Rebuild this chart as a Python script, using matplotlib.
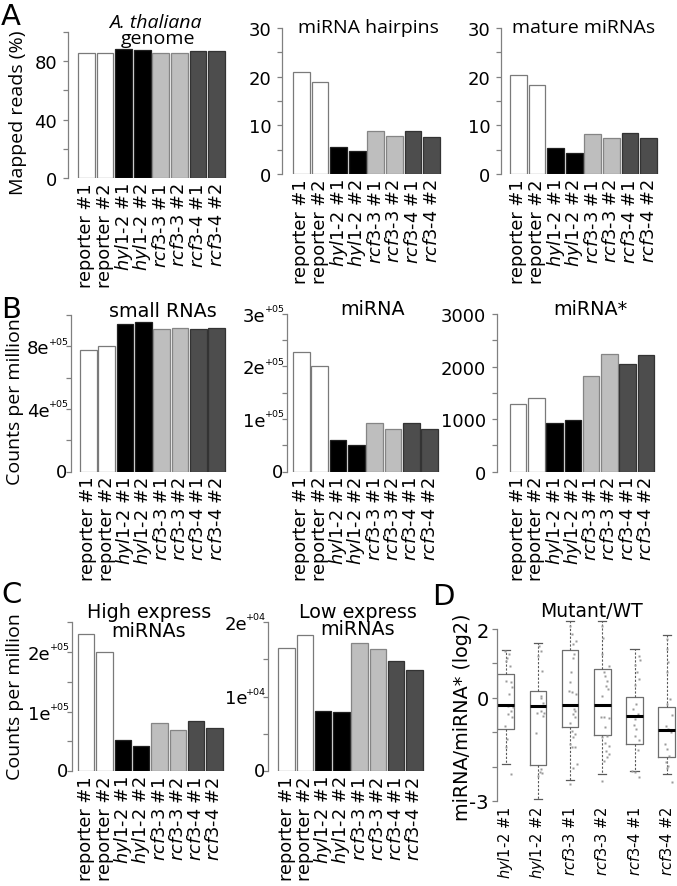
import numpy as np
import matplotlib.pyplot as plt

plt.rcParams['font.family'] = 'DejaVu Sans'
plt.rcParams['mathtext.fontset'] = 'dejavusans'

W, H = 677, 887

# samples shared by the bar panels
sample_labels = ['reporter #1', 'reporter #2',
                 r'$\mathit{hyl1}$-$\mathit{2}$ #1', r'$\mathit{hyl1}$-$\mathit{2}$ #2',
                 r'$\mathit{rcf3}$-$\mathit{3}$ #1', r'$\mathit{rcf3}$-$\mathit{3}$ #2',
                 r'$\mathit{rcf3}$-$\mathit{4}$ #1', r'$\mathit{rcf3}$-$\mathit{4}$ #2']
bar_colors = ['white', 'white', 'black', 'black', '#bebebe', '#bebebe', '#4d4d4d', '#4d4d4d']
edge_colors = ['#7a7a7a', '#7a7a7a', '#202020', '#202020', '#858585', '#858585', '#333333', '#333333']

# panel A (% mapped reads)
genome_pct = [85.5, 85.5, 88.3, 88.0, 85.5, 85.5, 87.2, 87.2]
hairpin_pct = [21.0, 19.0, 5.6, 4.7, 8.8, 7.8, 8.8, 7.7]
mature_pct = [20.4, 18.3, 5.3, 4.4, 8.3, 7.4, 8.4, 7.4]
# panel B (counts per million)
small_rna_cpm = [7.77e5, 7.99e5, 9.4e5, 9.55e5, 9.1e5, 9.2e5, 9.1e5, 9.2e5]
mirna_cpm = [2.27e5, 2.01e5, 0.61e5, 0.51e5, 0.92e5, 0.81e5, 0.93e5, 0.81e5]
mirna_star_cpm = [1283, 1398, 933, 985, 1823, 2242, 2057, 2223]
# panel C (counts per million)
high_expr_cpm = [2.30e5, 2.00e5, 0.53e5, 0.42e5, 0.81e5, 0.69e5, 0.85e5, 0.72e5]
low_expr_cpm = [1.65e4, 1.82e4, 0.81e4, 0.79e4, 1.71e4, 1.64e4, 1.47e4, 1.35e4]

# y ticks, labels and small raised exponents (blank = unlabeled tick)
pct100_ticks = [0, 20, 40, 60, 80, 100]
pct100_labels = ['0', '', '40', '', '80', '']
pct30_ticks = [0, 5, 10, 15, 20, 25, 30]
pct30_labels = ['0', '', '10', '', '20', '', '30']
small_ticks = [0, 2e5, 4e5, 6e5, 8e5, 1e6]
small_labels = ['0', '', '4e', '', '8e', '']
small_exps = ['', '', '+05', '', '+05', '']
mirna_ticks = [0, 0.5e5, 1e5, 1.5e5, 2e5, 2.5e5, 3e5]
mirna_labels = ['0', '', '1e', '', '2e', '', '3e']
mirna_exps = ['', '', '+05', '', '+05', '', '+05']
star_ticks = [0, 500, 1000, 1500, 2000, 2500, 3000]
star_labels = ['0', '', '1000', '', '2000', '', '3000']
high_ticks = [0, 0.5e5, 1e5, 1.5e5, 2e5, 2.5e5]
high_labels = ['0', '', '1e', '', '2e', '']
high_exps = ['', '', '+05', '', '+05', '']
low_ticks = [0, 0.5e4, 1e4, 1.5e4, 2e4]
low_labels = ['0', '', '1e', '', '2e']
low_exps = ['', '', '+04', '', '+04']

# panel D box statistics, miRNA/miRNA* (log2)
mutant_labels = [r'$\mathit{hyl1}$-$\mathit{2}$ #1', r'$\mathit{hyl1}$-$\mathit{2}$ #2',
                 r'$\mathit{rcf3}$-$\mathit{3}$ #1', r'$\mathit{rcf3}$-$\mathit{3}$ #2',
                 r'$\mathit{rcf3}$-$\mathit{4}$ #1', r'$\mathit{rcf3}$-$\mathit{4}$ #2']
box_q1 = [-0.90, -1.94, -0.86, -1.08, -1.35, -1.71]
box_med = [-0.20, -0.24, -0.20, -0.22, -0.54, -0.93]
box_q3 = [0.70, 0.19, 1.40, 0.83, 0.02, -0.28]
whisk_lo = [-1.93, -2.95, -2.39, -2.22, -2.12, -2.22]
whisk_hi = [1.40, 1.58, 2.24, 2.24, 1.43, 1.84]

# individual miRNAs (value, jitter in box widths)
pts_hyl1_1 = [1.37, 1.27, 1.17, 1.08, 0.93, 0.49, 0.45, 0.30, 0.11, -0.23, -0.28, -0.38, -0.47, -0.55, -0.81, -1.20, -1.44, -2.22]
jit_hyl1_1 = [-0.06, 0.18, 0.10, 0.04, 0.24, 0.04, 0.30, 0.38, 0.18, 0.14, 0.44, 0.30, 0.14, 0.38, -0.06, 0.10, 0.04, 0.34]
pts_hyl1_2 = [1.51, 1.37, 1.22, 0.78, 0.06, -0.01, -0.14, -0.43, -0.38, -0.43, -0.52, -1.01, -2.07, -2.17, -2.27, -2.20]
jit_hyl1_2 = [0.04, 0.16, 0.0, 0.24, 0.16, 0.20, 0.30, -0.04, 0.20, 0.36, 0.30, -0.10, 0.20, 0.10, 0.0, 0.24]
pts_rcf33_1 = [2.09, 1.85, 1.66, 1.56, 1.27, 1.17, 0.74, 0.45, 0.20, 0.16, 0.11, -0.33, -0.38, -0.47, -0.57, -0.72, -0.96, -1.06, -1.13, -1.35, -1.44, -1.44, -1.93, -2.03, -2.51]
jit_rcf33_1 = [0.02, 0.12, 0.36, 0.16, 0.22, 0.16, 0.08, 0.02, -0.08, 0.12, 0.36, 0.22, 0.32, 0.16, 0.28, 0.02, 0.12, 0.32, 0.16, 0.02, 0.12, 0.28, 0.42, 0.16, 0.02]
pts_rcf33_2 = [2.09, 1.75, 1.27, 0.93, 0.74, 0.64, 0.49, 0.35, 0.25, 0.06, -0.57, -0.57, -0.59, -0.86, -1.10, -1.15, -1.30, -1.40, -1.54, -1.64, -1.73, -1.83, -2.41]
jit_rcf33_2 = [0.0, 0.04, 0.0, 0.40, 0.10, 0.16, 0.30, 0.20, 0.36, 0.0, -0.10, 0.10, 0.40, 0.16, 0.30, 0.0, 0.16, 0.40, 0.20, 0.40, 0.30, 0.10, -0.04]
pts_rcf34_1 = [1.21, 1.09, 0.94, 0.75, 0.55, 0.36, -0.17, -0.32, -0.47, -0.61, -0.80, -0.90, -1.10, -1.24, -1.53, -2.12, -2.17, -2.31]
jit_rcf34_1 = [0.25, 0.35, 0.0, 0.15, 0.25, 0.0, 0.11, -0.09, 0.19, 0.05, -0.05, 0.11, 0.0, 0.25, 0.19, -0.15, 0.05, 0.25]
pts_rcf34_2 = [1.72, 1.43, 1.04, 0.75, -0.03, -0.17, -0.51, -0.81, -0.90, -1.00, -1.34, -1.49, -1.68, -1.87, -1.97, -2.05, -2.46]
jit_rcf34_2 = [0.04, 0.0, 0.10, 0.04, 0.20, 0.04, 0.30, -0.04, 0.10, 0.24, -0.10, 0.04, 0.16, -0.04, 0.10, 0.04, 0.30]

fig = plt.figure(figsize=(W / 100, H / 100), dpi=100)

SANS2 = 'Open Sans'
AXIS_GREY = '#808080'
BAR_W = 0.9


def px_axes(x0, x1, ytop, ybot):
    return fig.add_axes([x0 / W, 1 - ybot / H, (x1 - x0) / W, (ybot - ytop) / H])


def bar_panel(spine_x, bar_l, bar_r, y0, ytop, values, ticks, tlabels, exps=None):
    # pixel geometry -> data limits
    unit = (bar_r - bar_l) / (7 + BAR_W)
    ax = px_axes(spine_x, bar_r + 4, ytop, y0)
    x = np.arange(len(values))
    ax.bar(x, values, width=BAR_W, color=bar_colors, edgecolor=edge_colors, linewidth=0.9)
    ax.set_xlim(-BAR_W / 2 - (bar_l - spine_x) / unit, 7 + BAR_W / 2 + 4 / unit)
    ax.set_ylim(0, ticks[-1])
    for s in ['top', 'right', 'bottom']:
        ax.spines[s].set_visible(False)
    ax.spines['left'].set_color(AXIS_GREY)
    ax.spines['left'].set_linewidth(0.9)
    ax.spines['left'].set_bounds(0, ticks[-1])
    ax.tick_params(axis='y', length=3.8, width=0.9, color=AXIS_GREY, labelsize=13, pad=4)
    if exps is None:
        ax.set_yticks(ticks, tlabels)
    else:
        # "8e" + small raised "+05", as in R's plotmath labels; "0" sits close to the axis
        ax.set_yticks(ticks, ['' if lab == '0' else lab for lab in tlabels])
        ax.tick_params(axis='y', pad=11.5)
        for t, lab, e in zip(ticks, tlabels, exps):
            if lab == '0':
                ax.annotate(lab, xy=(0, t), xycoords=('axes fraction', 'data'),
                            xytext=(-2.5, 0), textcoords='offset points',
                            ha='right', va='center', fontsize=13)
            if e:
                ax.annotate(e, xy=(0, t), xycoords=('axes fraction', 'data'),
                            xytext=(-1.5, 0.5), textcoords='offset points',
                            ha='right', va='bottom', fontsize=6.8)
    ax.set_xticks(x, sample_labels, rotation=90)
    ax.tick_params(axis='x', length=0, pad=3, labelsize=12.8)
    ax.patch.set_visible(False)
    return ax


# ---- panel A
bar_panel(68, 78, 225, 179, 33, genome_pct, pct100_ticks, pct100_labels)
bar_panel(282, 293, 440, 175, 29, hairpin_pct, pct30_ticks, pct30_labels)
bar_panel(501, 510, 657, 175, 29, mature_pct, pct30_ticks, pct30_labels)

# ---- panel B
bar_panel(71, 80, 225, 472.7, 316, small_rna_cpm, small_ticks, small_labels, small_exps)
bar_panel(287, 293, 438, 472.7, 314.6, mirna_cpm, mirna_ticks, mirna_labels, mirna_exps)
bar_panel(496.7, 510, 654, 472.7, 315, mirna_star_cpm, star_ticks, star_labels)

# ---- panel C
bar_panel(71.7, 78, 222.7, 772.3, 623, high_expr_cpm, high_ticks, high_labels, high_exps)
bar_panel(268.3, 278.3, 422.7, 772.3, 622.7, low_expr_cpm, low_ticks, low_labels, low_exps)

# ---- panel D
axd = px_axes(496.7, 677, 618, 805.4)
pos = np.arange(1, 7)
stats = [dict(q1=box_q1[i], med=box_med[i], q3=box_q3[i], whislo=whisk_lo[i],
              whishi=whisk_hi[i], fliers=[]) for i in range(6)]
axd.bxp(stats, positions=pos, widths=0.52, capwidths=0.26, showfliers=False,
        boxprops=dict(color='#6e6e6e', linewidth=0.9),
        medianprops=dict(color='black', linewidth=2.2),
        whiskerprops=dict(color='#5a5a5a', linewidth=0.8, linestyle=(0, (2, 1.5))),
        capprops=dict(color='#5a5a5a', linewidth=0.9))
groups = [(pts_hyl1_1, jit_hyl1_1), (pts_hyl1_2, jit_hyl1_2), (pts_rcf33_1, jit_rcf33_1),
          (pts_rcf33_2, jit_rcf33_2), (pts_rcf34_1, jit_rcf34_1), (pts_rcf34_2, jit_rcf34_2)]
for p, (vals, jit) in zip(pos, groups):
    axd.plot(p + np.array(jit) * 0.52, vals, 's', ms=1.8, color='#9a9a9a', mec='none')
axd.set_xlim(0.72, 6.32)
axd.set_ylim(-3.1, 2.35)
for s in ['top', 'right', 'bottom']:
    axd.spines[s].set_visible(False)
axd.spines['left'].set_color(AXIS_GREY)
axd.spines['left'].set_linewidth(0.9)
axd.spines['left'].set_bounds(-3, 2)
axd.set_yticks([-3, -2, -1, 0, 1, 2], ['-3', '', '', '0', '', '2'])
axd.tick_params(axis='y', length=3.8, width=0.9, color=AXIS_GREY, labelsize=14, pad=2)
axd.set_xticks(pos, mutant_labels, rotation=90)
axd.tick_params(axis='x', length=0, pad=0.5, labelsize=10.5)
axd.patch.set_visible(False)

# ---- titles
def ftext(x, y, s, **kw):
    fig.text(x / W, 1 - y / H, s, **kw)


ftext(155, 28, 'A. thaliana', ha='center', va='baseline', fontsize=14, family=SANS2, style='italic')
ftext(158, 44, 'genome', ha='center', va='baseline', fontsize=14, family=SANS2)
ftext(368, 33, 'miRNA hairpins', ha='center', va='baseline', fontsize=14, family=SANS2)
ftext(584, 33, 'mature miRNAs', ha='center', va='baseline', fontsize=14, family=SANS2)
ftext(163, 317, 'small RNAs', ha='center', va='baseline', fontsize=13.8)
ftext(373, 315, 'miRNA', ha='center', va='baseline', fontsize=13.8)
ftext(590, 315, 'miRNA*', ha='center', va='baseline', fontsize=13.8)
ftext(149, 618, 'High express', ha='center', va='baseline', fontsize=13.8)
ftext(149, 637, 'miRNAs', ha='center', va='baseline', fontsize=13.8)
ftext(358, 618, 'Low express', ha='center', va='baseline', fontsize=13.8)
ftext(358, 635, 'miRNAs', ha='center', va='baseline', fontsize=13.8)
ftext(592, 617, 'Mutant/WT', ha='center', va='baseline', fontsize=13.5)

# y axis titles
ftext(18, 113, 'Mapped reads (%)', ha='center', va='center', rotation=90, fontsize=14, family=SANS2)
ftext(15, 402, 'Counts per million', ha='center', va='center', rotation=90, fontsize=14, family=SANS2)
ftext(15, 697, 'Counts per million', ha='center', va='center', rotation=90, fontsize=14, family=SANS2)
ftext(462, 717, 'miRNA/miRNA* (log2)', ha='center', va='center', rotation=90, fontsize=13.8)

# panel letters
for letter, x, y in [('A', 1, 25), ('B', 1, 318), ('C', 1, 603), ('D', 432, 605)]:
    ftext(x, y, letter, ha='left', va='baseline', fontsize=21)

fig.savefig('out.png', dpi=100)
